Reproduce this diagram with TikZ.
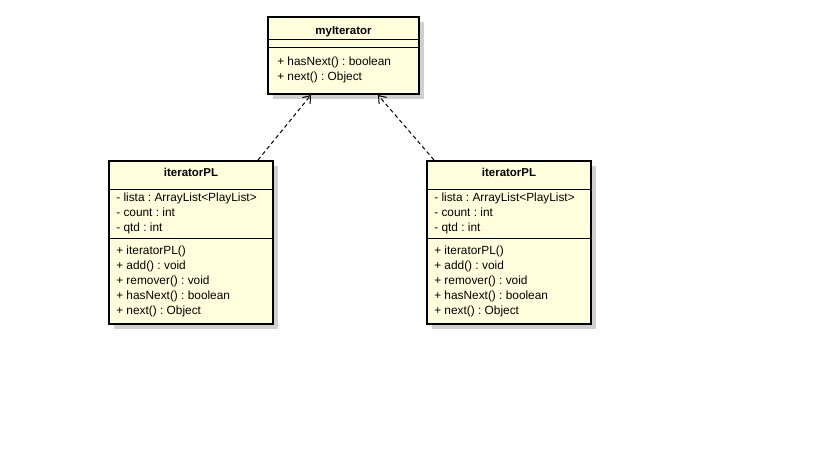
\documentclass[tikz,border=0pt]{standalone}
\usepackage{fontspec}
\setmainfont{Liberation Sans}
\frenchspacing
\usetikzlibrary{arrows.meta,shadows,calc,backgrounds}
\definecolor{umlfill}{RGB}{255,255,222}
\definecolor{umlshadow}{RGB}{208,208,208}
\tikzset{
  classbox/.style={draw=black, line width=1.5pt, fill=umlfill, inner sep=0pt,
    drop shadow={shadow xshift=3.75pt, shadow yshift=-3.75pt, fill=umlshadow, opacity=1}},
  classtitle/.style={font=\bfseries\fontsize{8.6}{10}\selectfont, inner sep=0pt, anchor=base},
  member/.style={font=\fontsize{8.9}{10}\selectfont, inner sep=0pt, anchor=base west},
  sepline/.style={draw=black, line width=0.75pt},
  dep/.style={draw=black, line width=0.75pt, dash pattern=on 3pt off 2.25pt,
    -{Straight Barb[length=5pt,width=7.5pt]}},
  depshadow/.style={draw=black!15, line width=0.75pt}
}
\begin{document}
\begin{tikzpicture}[x=0.75pt,y=-0.75pt]
\useasboundingbox[fill=white] (0,0) rectangle (816,460);
% classes
\node[classbox, minimum width=113.25pt, minimum height=57.75pt] (m) at (343.5,55.5) {};
\node[classbox, minimum width=123pt, minimum height=122.25pt] (l) at (191,242.5) {};
\node[classbox, minimum width=123pt, minimum height=122.25pt] (r) at (509,242.5) {};
% connectors shadows
\begin{scope}[on background layer]
\draw[depshadow] ($(l.north west)+(154,4)$) -- ($(m.south west)+(48,4)$);
\draw[depshadow] ($(r.north west)+(12,4)$) -- ($(m.south west)+(115,4)$);
\end{scope}
% separators myIterator
\draw[sepline] (m.west |- 0,40) -- (m.east |- 0,40);
\draw[sepline] (m.west |- 0,48) -- (m.east |- 0,48);
\node[classtitle] (mt) at (343.5,34.5) {myIterator};
\node[member] (m1) at (277,65.5) {+ hasNext() : boolean};
\node[member] (m2) at (277,80.5) {+ next() : Object};
% left class
\draw[sepline] (l.west |- 0,189) -- (l.east |- 0,189);
\draw[sepline] (l.west |- 0,238) -- (l.east |- 0,238);
\node[classtitle] (lt) at (191,176) {iteratorPL};
\node[member] (la1) at (116,201) {- lista : ArrayList<PlayList>};
\node[member] (la2) at (116,216) {- count : int};
\node[member] (la3) at (116,231) {- qtd : int};
\node[member] (lm1) at (116,254) {+ iteratorPL()};
\node[member] (lm2) at (116,269) {+ add() : void};
\node[member] (lm3) at (116,284) {+ remover() : void};
\node[member] (lm4) at (116,299) {+ hasNext() : boolean};
\node[member] (lm5) at (116,314) {+ next() : Object};
% right class
\draw[sepline] (r.west |- 0,189) -- (r.east |- 0,189);
\draw[sepline] (r.west |- 0,238) -- (r.east |- 0,238);
\node[classtitle] (rt) at (509,176) {iteratorPL};
\node[member] (ra1) at (434,201) {- lista : ArrayList<PlayList>};
\node[member] (ra2) at (434,216) {- count : int};
\node[member] (ra3) at (434,231) {- qtd : int};
\node[member] (rm1) at (434,254) {+ iteratorPL()};
\node[member] (rm2) at (434,269) {+ add() : void};
\node[member] (rm3) at (434,284) {+ remover() : void};
\node[member] (rm4) at (434,299) {+ hasNext() : boolean};
\node[member] (rm5) at (434,314) {+ next() : Object};
% connectors
\draw[dep] ($(l.north west)+(150,0)$) -- ($(m.south west)+(44,0)$);
\draw[dep] ($(r.north west)+(8,0)$) -- ($(m.south west)+(111,0)$);
\end{tikzpicture}
\end{document}
